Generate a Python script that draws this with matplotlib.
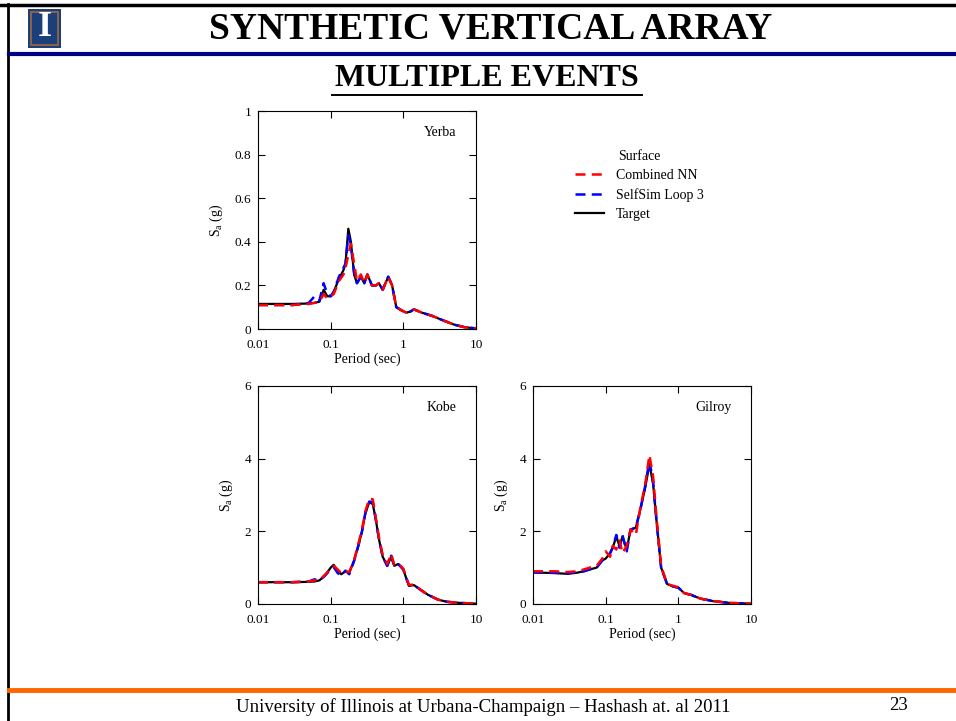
import matplotlib.pyplot as plt
from matplotlib.lines import Line2D
from matplotlib.patches import Rectangle

plt.rcParams["font.family"] = ["Liberation Serif", "DejaVu Serif"]
plt.rcParams["mathtext.fontset"] = "custom"
plt.rcParams["mathtext.rm"] = "Liberation Serif"
plt.rcParams["mathtext.it"] = "Liberation Serif"

# ---- data (period in sec, Sa in g) ----
yerba_t_T = [0.01, 0.03, 0.05, 0.06, 0.07, 0.08, 0.09, 0.1, 0.11, 0.13, 0.15, 0.16, 0.175, 0.19,
             0.21, 0.23, 0.26, 0.29, 0.32, 0.37, 0.42, 0.46, 0.52, 0.62, 0.7, 0.8, 0.95, 1.1,
             1.25, 1.4, 1.8, 2.5, 3.5, 5, 7, 10]
yerba_target = [0.115, 0.115, 0.117, 0.12, 0.125, 0.18, 0.15, 0.15, 0.17, 0.23, 0.27, 0.3, 0.46, 0.4,
                0.25, 0.21, 0.24, 0.21, 0.25, 0.2, 0.2, 0.21, 0.18, 0.24, 0.2, 0.1, 0.085, 0.075,
                0.08, 0.09, 0.075, 0.06, 0.04, 0.02, 0.008, 0.003]
yerba_nn = [0.11, 0.11, 0.115, 0.12, 0.125, 0.16, 0.14, 0.15, 0.16, 0.22, 0.25, 0.28, 0.34, 0.39,
            0.3, 0.22, 0.25, 0.21, 0.25, 0.2, 0.2, 0.21, 0.18, 0.24, 0.2, 0.1, 0.085, 0.075,
            0.08, 0.09, 0.075, 0.06, 0.04, 0.02, 0.008, 0.003]
yerba_ss = [0.11, 0.11, 0.12, 0.15, 0.13, 0.21, 0.16, 0.15, 0.17, 0.24, 0.28, 0.3, 0.43, 0.38,
            0.26, 0.21, 0.24, 0.21, 0.25, 0.2, 0.2, 0.21, 0.18, 0.24, 0.2, 0.1, 0.085, 0.075,
            0.08, 0.09, 0.075, 0.06, 0.04, 0.02, 0.008, 0.003]

kobe_T = [0.01, 0.03, 0.05, 0.06, 0.07, 0.085, 0.1, 0.11, 0.125, 0.14, 0.16, 0.18, 0.21, 0.24,
          0.27, 0.3, 0.34, 0.38, 0.42, 0.46, 0.52, 0.6, 0.68, 0.75, 0.85, 1.0, 1.1, 1.2, 1.4,
          1.7, 2.2, 3, 4, 6, 10]
kobe_target = [0.6, 0.6, 0.61, 0.62, 0.65, 0.8, 1.0, 1.08, 0.9, 0.82, 0.9, 0.85, 1.2, 1.6,
               2.0, 2.5, 2.8, 2.75, 2.3, 1.8, 1.3, 1.05, 1.3, 1.05, 1.1, 0.95, 0.7, 0.5, 0.52,
               0.4, 0.25, 0.12, 0.06, 0.03, 0.01]
kobe_nn = [0.6, 0.6, 0.62, 0.65, 0.65, 0.82, 0.98, 1.05, 0.95, 0.85, 0.9, 0.88, 1.2, 1.65,
           2.05, 2.55, 2.9, 2.88, 2.35, 1.85, 1.35, 1.1, 1.38, 1.08, 1.12, 0.97, 0.72, 0.52, 0.54,
           0.4, 0.25, 0.12, 0.06, 0.03, 0.01]
kobe_ss = [0.6, 0.6, 0.62, 0.68, 0.64, 0.8, 0.95, 1.02, 0.85, 0.78, 0.92, 0.82, 1.18, 1.6,
           2.0, 2.5, 2.82, 2.8, 2.3, 1.8, 1.3, 1.05, 1.33, 1.05, 1.1, 0.95, 0.7, 0.5, 0.52,
           0.4, 0.25, 0.12, 0.06, 0.03, 0.01]

gilroy_T = [0.01, 0.02, 0.03, 0.04, 0.05, 0.06, 0.075, 0.09, 0.1, 0.115, 0.125, 0.14, 0.155, 0.17,
            0.195, 0.22, 0.26, 0.3, 0.35, 0.4, 0.45, 0.5, 0.58, 0.7, 0.85, 1.0, 1.2, 1.5, 2,
            3, 5, 10]
gilroy_target = [0.87, 0.85, 0.83, 0.86, 0.9, 0.95, 1.0, 1.2, 1.25, 1.4, 1.55, 1.85, 1.6, 1.85,
                 1.5, 2.05, 2.1, 2.6, 3.2, 3.85, 3.3, 2.3, 1.0, 0.55, 0.48, 0.45, 0.3, 0.25, 0.15,
                 0.08, 0.03, 0.01]
gilroy_nn = [0.9, 0.9, 0.88, 0.9, 0.95, 1.0, 1.05, 1.25, 1.45, 1.3, 1.6, 1.5, 1.75, 1.4,
             1.6, 2.05, 1.9, 2.65, 3.3, 4.1, 3.5, 2.4, 1.05, 0.55, 0.5, 0.46, 0.3, 0.25, 0.15,
             0.08, 0.03, 0.01]
gilroy_ss = [0.87, 0.86, 0.85, 0.87, 0.9, 0.95, 1.0, 1.2, 1.25, 1.4, 1.55, 1.9, 1.55, 1.9,
             1.45, 2.05, 2.1, 2.6, 3.25, 3.95, 3.35, 2.3, 1.0, 0.55, 0.48, 0.45, 0.3, 0.25, 0.15,
             0.08, 0.03, 0.01]

x_ticks = [0.01, 0.1, 1, 10]
x_ticklabels = ["0.01", "0.1", "1", "10"]

W, H = 956, 721
fig = plt.figure(figsize=(W / 100, H / 100), dpi=100)


def fx(px):
    return px / W


def fy(py):
    return 1 - py / H


# ---- slide decorations ----
fig.add_artist(Line2D([0, 1], [fy(5), fy(5)], color="black", lw=2.5))
fig.add_artist(Line2D([fx(8), fx(8)], [0, fy(4)], color="black", lw=2.0))
fig.add_artist(Line2D([fx(9), 1], [fy(54), fy(54)], color="#000080", lw=3.0))
fig.add_artist(Line2D([fx(9), 1], [fy(690), fy(690)], color="#FF6600", lw=3.5))

# logo
fig.add_artist(Rectangle((fx(28), fy(48)), fx(33), 39 / H, facecolor="#1B3F7A", edgecolor="none"))
fig.add_artist(Rectangle((fx(31), fy(45)), fx(27), 33 / H, facecolor="none", edgecolor="#A0693A", lw=1.2))
fig.text(fx(44.5), fy(27), "I", ha="center", va="center", color="white", fontsize=26,
         fontweight="bold")

fig.text(fx(491), fy(29), "SYNTHETIC VERTICAL ARRAY", ha="center", va="center",
         fontsize=27, fontweight="bold")
fig.text(fx(487), fy(78), "MULTIPLE EVENTS", ha="center", va="center",
         fontsize=23, fontweight="bold")
fig.add_artist(Line2D([fx(332), fx(642)], [fy(95), fy(95)], color="black", lw=1.4))

fig.text(fx(483), fy(707), "University of Illinois at Urbana-Champaign \u2013 Hashash at. al 2011",
         ha="center", va="center", fontsize=13.5)
fig.text(fx(899), fy(705), "23", ha="center", va="center", fontsize=13.5)


# ---- plots ----
def spectrum_axes(rect, T, target, nn, ss, name, ymax, yticks, yticklabels):
    ax = fig.add_axes(rect)
    ax.plot(T, target, color="black", lw=1.6, label="Target")
    ax.plot(T, ss, color="blue", lw=1.8, dashes=(4, 2.5), label="SelfSim Loop 3")
    ax.plot(T, nn, color="red", lw=1.8, dashes=(4, 2.5), label="Combined NN")
    ax.set_xscale("log")
    ax.set_xlim(0.01, 10)
    ax.set_ylim(0, ymax)
    ax.set_xticks(x_ticks)
    ax.set_xticklabels(x_ticklabels)
    ax.xaxis.set_minor_locator(plt.NullLocator())
    ax.set_yticks(yticks)
    ax.set_yticklabels(yticklabels)
    ax.tick_params(direction="in", top=True, right=True, labelsize=9.5, length=5)
    ax.tick_params(axis="x", pad=7)
    ax.tick_params(axis="y", pad=5)
    ax.set_xlabel("Period (sec)", fontsize=10, labelpad=1)
    ax.set_ylabel("S$_{\\rm a}$ (g)", fontsize=10, labelpad=7)
    ax.text(0.91, 0.9, name, transform=ax.transAxes, ha="right", va="center", fontsize=10)
    return ax


spectrum_axes([fx(258), fy(329), fx(218), 218 / H], yerba_t_T, yerba_target, yerba_nn,
              yerba_ss, "Yerba", 1, [0, 0.2, 0.4, 0.6, 0.8, 1],
              ["0", "0.2", "0.4", "0.6", "0.8", "1"])
spectrum_axes([fx(258), fy(604), fx(218), 218 / H], kobe_T, kobe_target, kobe_nn, kobe_ss,
              "Kobe", 6, [0, 2, 4, 6], ["0", "2", "4", "6"])
spectrum_axes([fx(533), fy(604), fx(218), 218 / H], gilroy_T, gilroy_target, gilroy_nn, gilroy_ss,
              "Gilroy", 6, [0, 2, 4, 6], ["0", "2", "4", "6"])

handles = [
    Line2D([], [], color="red", lw=1.8, dashes=(4, 2.5)),
    Line2D([], [], color="blue", lw=1.8, dashes=(4, 2.5)),
    Line2D([], [], color="black", lw=1.6),
]
fig.legend(handles, ["Combined NN", "SelfSim Loop 3", "Target"], title="Surface",
           loc="upper left", bbox_to_anchor=(fx(562), fy(137)), frameon=False, fontsize=10,
           title_fontsize=10, handlelength=2.1, labelspacing=0.45, handletextpad=0.9)

fig.savefig("out.png", dpi=100)
